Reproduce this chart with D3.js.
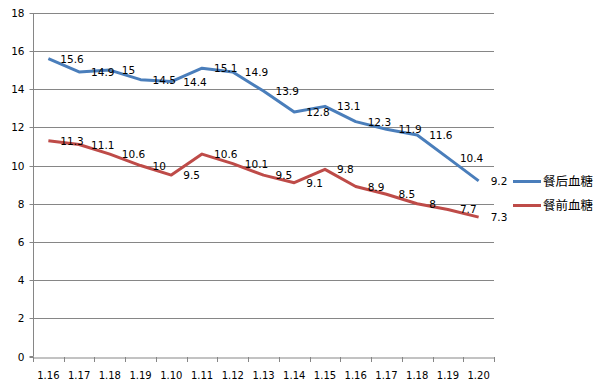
<!DOCTYPE html>
<html><head><meta charset="utf-8">
<script src="https://cdn.jsdelivr.net/npm/d3@7"></script>
<style>body{margin:0;background:#fff}</style>
</head><body>
<svg id="c" width="608" height="387"></svg>
<script>
const categories = ["1.16","1.17","1.18","1.19","1.10","1.11","1.12","1.13","1.14","1.15","1.16","1.17","1.18","1.19","1.20"];
const after = [15.6,14.9,15,14.5,14.4,15.1,14.9,13.9,12.8,13.1,12.3,11.9,11.6,10.4,9.2];
const before = [11.3,11.1,10.6,10,9.5,10.6,10.1,9.5,9.1,9.8,8.9,8.5,8,7.7,7.3];
const yTicks = [0,2,4,6,8,10,12,14,16,18];
const seriesNames = ["餐后血糖","餐前血糖"];

const svg = d3.select("#c");
const L=33, R=494, T=12.8, B=356.5;
const idx = categories.map((d,i)=>i);
const x = d3.scaleBand().domain(idx).range([L,R]);
const y = d3.scaleLinear().domain([0,18]).range([B,T]);
const font = "'DejaVu Sans', Verdana, sans-serif";

// gridlines
svg.append("g").selectAll("line").data(yTicks.filter(d=>d>0)).join("line")
  .attr("x1",L).attr("x2",R).attr("y1",d=>Math.round(y(d))+0.5).attr("y2",d=>Math.round(y(d))+0.5)
  .attr("stroke","#868686").attr("stroke-width",1);

// y axis
const ya = svg.append("g").attr("transform",`translate(${L+0.5},0)`)
  .call(d3.axisLeft(y).tickValues(yTicks).tickSize(4).tickPadding(5).tickFormat(d3.format("d")));
ya.select(".domain").attr("stroke","#868686").attr("d",`M-4,${y(0)}H0V${Math.round(y(18))+0.5}`);
ya.selectAll(".tick line").attr("stroke","#868686");
ya.selectAll(".tick").attr("transform",d=>`translate(0,${Math.round(y(d))+0.5})`);
ya.selectAll("text").attr("font-family",font).attr("font-size","10.5px").attr("fill","#000");

// x axis
const xa = svg.append("g").attr("transform",`translate(0,${Math.round(B)+0.5})`)
  .call(d3.axisBottom(x).tickSize(0).tickFormat(i=>categories[i]).tickPadding(14));
xa.select(".domain").attr("stroke","#868686");
xa.selectAll("text").attr("font-family",font).attr("font-size","10px").attr("fill","#000");
// tick marks at band boundaries
svg.append("g").selectAll("line").data(d3.range(categories.length+1)).join("line")
  .attr("x1",i=>Math.round(L+i*x.step())+0.5).attr("x2",i=>Math.round(L+i*x.step())+0.5)
  .attr("y1",Math.round(B)).attr("y2",Math.round(B)+5)
  .attr("stroke","#868686");

const colors = ["#4a7ebb","#be4b48"];
const data = [after, before];
const line = d3.line().x((d,i)=>x(i)+x.bandwidth()/2).y(d=>y(d));
data.forEach((s,k)=>{
  svg.append("path").datum(s).attr("d",line).attr("fill","none")
    .attr("stroke",colors[k]).attr("stroke-width",3).attr("stroke-linejoin","round");
});
data.forEach((s,k)=>{
  svg.append("g").selectAll("text").data(s).join("text")
    .attr("x",(d,i)=>x(i)+x.bandwidth()/2+12).attr("y",d=>y(d)+4)
    .attr("font-family",font).attr("font-size","10.5px").attr("fill","#000")
    .text(d=>d);
});

// legend
seriesNames.forEach((n,k)=>{
  const ly = 181.5 + k*24;
  svg.append("line").attr("x1",513).attr("x2",541).attr("y1",ly).attr("y2",ly)
    .attr("stroke",colors[k]).attr("stroke-width",3);
  svg.append("text").attr("x",543).attr("y",ly+4.5).text(n)
    .attr("font-family","'Noto Sans CJK SC', sans-serif").attr("font-size","12.5px").attr("fill","#000");
});
</script>
</body></html>
